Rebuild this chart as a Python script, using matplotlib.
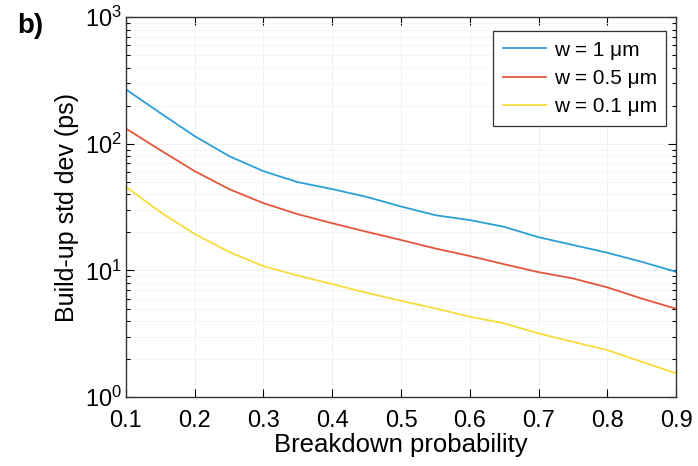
import numpy as np
import matplotlib.pyplot as plt
from matplotlib.ticker import LogLocator, NullFormatter

plt.rcParams['font.family'] = ['Liberation Sans', 'DejaVu Sans']
plt.rcParams['mathtext.default'] = 'regular'

# breakdown probability
p = [0.1, 0.15, 0.2, 0.25, 0.3, 0.35, 0.4, 0.45, 0.5,
     0.55, 0.6, 0.65, 0.7, 0.75, 0.8, 0.85, 0.9]

# build-up std dev (ps)
w_1 = [269, 175, 115, 80, 60.8, 49.8, 43.9, 38.1, 32.0,
       27.3, 25.0, 22.1, 18.3, 15.9, 13.8, 11.7, 9.76]
w_05 = [132, 89.1, 60.8, 43.9, 34.0, 27.8, 23.6, 20.2, 17.4,
        14.9, 13.0, 11.2, 9.7, 8.65, 7.35, 6.0, 4.98]
w_01 = [45.7, 28.9, 19.4, 14.0, 10.8, 9.1, 7.8, 6.66, 5.76,
        5.01, 4.31, 3.82, 3.18, 2.73, 2.35, 1.90, 1.54]

labels = ['w = 1 μm', 'w = 0.5 μm', 'w = 0.1 μm']
colors = ['#2b9fd9', '#e5563a', '#f6dc3c']

fig = plt.figure(figsize=(6.98, 4.66), dpi=100)
ax = fig.add_axes([0.1805, 0.148, 0.788, 0.815])

for y, lab, c in zip([w_1, w_05, w_01], labels, colors):
    ax.semilogy(p, y, color=c, lw=1.3, label=lab)

ax.set_xlim(0.1, 0.9)
ax.set_ylim(1, 1000)
ax.set_xticks(np.arange(0.1, 0.91, 0.1))
ax.set_xticklabels(['0.1', '0.2', '0.3', '0.4', '0.5', '0.6', '0.7', '0.8', '0.9'])
ax.yaxis.set_major_locator(LogLocator(base=10, numticks=10))
ax.yaxis.set_minor_locator(LogLocator(base=10, subs=np.arange(2, 10), numticks=10))
ax.yaxis.set_minor_formatter(NullFormatter())

ax.tick_params(which='both', direction='in', top=True, right=True, labelsize=17, width=0.8)
ax.tick_params(which='major', length=6)
ax.tick_params(which='minor', length=3)
ax.tick_params(axis='x', pad=9)
ax.tick_params(axis='y', pad=3)

ax.grid(True, which='major', color='#eeeeee', lw=0.6)
ax.grid(True, which='minor', axis='y', color='#f2f2f2', lw=0.6)
for s in ax.spines.values():
    s.set_linewidth(1.0)
    s.set_color('#333333')

ax.set_xlabel('Breakdown probability', fontsize=18.5, labelpad=1)
ax.set_ylabel('Build-up std dev (ps)', fontsize=18, labelpad=4)

leg = ax.legend(loc='upper right', fontsize=15, fancybox=False, framealpha=1,
                edgecolor='#333333', handlelength=2.1, handletextpad=0.35,
                borderpad=0.45, labelspacing=0.45, borderaxespad=0,
                bbox_to_anchor=(0.982, 0.963))
leg.get_frame().set_linewidth(0.9)

fig.text(0.025, 0.93, 'b)', fontsize=20, fontweight='bold')

fig.savefig('out.png', dpi=100)
